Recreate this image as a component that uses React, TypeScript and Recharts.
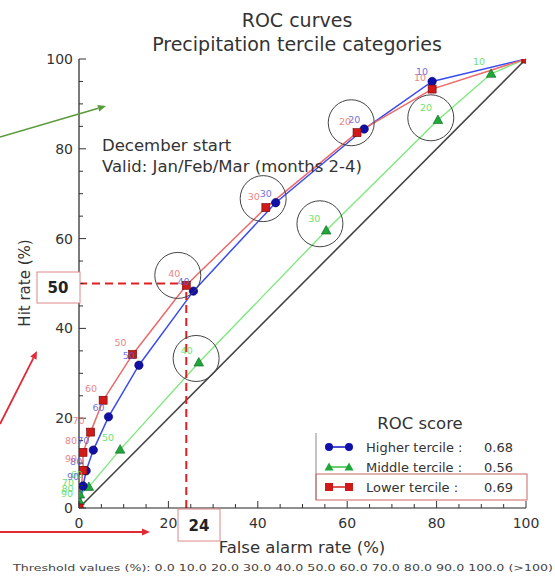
import React from 'react';
import { ComposedChart, Line, XAxis, YAxis, ReferenceLine, ReferenceDot, LabelList } from 'recharts';

// Threshold labels (probability thresholds) for each ROC point, from (0,0) to (100,100)
const thresholds = ['100', '90', '80', '70', '60', '50', '40', '30', '20', '10', '0'];

// Higher tercile (blue)
const higherFar = [0, 0.9, 1.6, 3.2, 6.6, 13.4, 25.6, 44, 63.8, 79, 100];
const higherHit = [0, 4.9, 8.3, 12.9, 20.3, 31.8, 48.3, 68, 84.4, 95, 100];
// Middle tercile (green)
const middleFar = [0, 0, 0.1, 0.2, 2.2, 9.2, 26.8, 55.3, 80.3, 92.2, 100];
const middleHit = [0, 0.5, 1.5, 3, 4.7, 13, 32.4, 61.8, 86.4, 96.7, 100];
// Lower tercile (red)
const lowerFar = [0, 0.9, 0.9, 2.6, 5.4, 12, 24, 41.8, 62.2, 79, 100];
const lowerHit = [0, 8.4, 12.4, 16.9, 24, 34.2, 49.6, 66.9, 83.6, 93.3, 100];

// Highlight circles (annotation centres)
const circleFar = [22.1, 41.2, 60.9, 26.2, 53.9, 78.7];
const circleHit = [51.8, 68.9, 85.8, 33.3, 63.3, 86.9];

// Highlighted reading
const markFar = 24;
const markHit = 50;

const allTicks = [0, 5, 10, 15, 20, 25, 30, 35, 40, 45, 50, 55, 60, 65, 70, 75, 80, 85, 90, 95, 100];

const legendNames = ['Higher tercile :', 'Middle tercile :', 'Lower tercile  :'];
const legendScores = ['0.68', '0.56', '0.69'];
const thresholdText = 'Threshold values (%): 0.0 10.0 20.0 30.0 40.0 50.0 60.0 70.0 80.0 90.0 100.0 (>100)';

const FONT = '"DejaVu Sans", sans-serif';

const makeSeries = (far: number[], hit: number[]) =>
  far.map((x, i) => ({ x, y: hit[i], label: thresholds[i] }));

const higherData = makeSeries(higherFar, higherHit);
const middleData = makeSeries(middleFar, middleHit);
const lowerData = makeSeries(lowerFar, lowerHit);
const circles = circleFar.map((x, i) => ({ x, y: circleHit[i] }));

const BLUE_LINE = '#3a4cf0';
const BLUE_DOT = '#1010a8';
const GREEN_LINE = '#7be87b';
const GREEN_DOT = '#1fa83a';
const RED_LINE = '#ec6a6a';
const RED_DOT = '#d01a1a';

const circleDot = (props: any) => {
  const { cx, cy, index } = props;
  if (cx == null || cy == null) return <g key={index} />;
  return <circle key={index} cx={cx} cy={cy} r={4.2} fill={BLUE_DOT} stroke="#000060" strokeWidth={0.6} />;
};
const triDot = (props: any) => {
  const { cx, cy, index } = props;
  if (cx == null || cy == null) return <g key={index} />;
  return (
    <polygon key={index} points={`${cx},${cy - 5} ${cx - 4.8},${cy + 3.5} ${cx + 4.8},${cy + 3.5}`} fill={GREEN_DOT} stroke="#0a6020" strokeWidth={0.6} />
  );
};
const sqDot = (props: any) => {
  const { cx, cy, index } = props;
  if (cx == null || cy == null) return <g key={index} />;
  return <rect key={index} x={cx - 4} y={cy - 4} width={8} height={8} fill={RED_DOT} stroke="#700000" strokeWidth={0.6} />;
};

const makeLabel = (color: string, dx: number, dy: number) => (props: any) => {
  const { x, y, value, index } = props;
  if (value === '100' || value === '0' || x == null) return null;
  return (
    <text key={index} x={x + dx} y={y + dy} fill={color} fontSize={9.5} fontFamily={FONT} textAnchor="middle" opacity={0.85}>
      {value}
    </text>
  );
};

const BottomTick = (props: any) => {
  const { x, y, payload } = props;
  const v = payload.value;
  const major = v % 20 === 0;
  return (
    <g>
      <line x1={x} y1={y} x2={x} y2={y - (major ? 7 : 4)} stroke="#333" strokeWidth={1} />
      {major && (
        <text x={x} y={y + 20} textAnchor="middle" fontSize={14} fontFamily={FONT} fill="#333">
          {v}
        </text>
      )}
    </g>
  );
};
const TopTick = (props: any) => {
  const { x, y, payload } = props;
  const major = payload.value % 20 === 0;
  return <line x1={x} y1={y} x2={x} y2={y + (major ? 7 : 4)} stroke="#333" strokeWidth={1} />;
};
const LeftTick = (props: any) => {
  const { x, y, payload } = props;
  const v = payload.value;
  const major = v % 20 === 0;
  return (
    <g>
      <line x1={x} y1={y} x2={x + (major ? 7 : 4)} y2={y} stroke="#333" strokeWidth={1} />
      {major && (
        <text x={x - 6} y={y + 5} textAnchor="end" fontSize={14} fontFamily={FONT} fill="#333">
          {v}
        </text>
      )}
    </g>
  );
};
const RightTick = (props: any) => {
  const { x, y, payload } = props;
  const major = payload.value % 20 === 0;
  return <line x1={x} y1={y} x2={x - (major ? 7 : 4)} y2={y} stroke="#333" strokeWidth={1} />;
};

const Arrow = ({ x1, y1, x2, y2, color, w }: any) => {
  const ang = Math.atan2(y2 - y1, x2 - x1);
  const L = 8;
  const W = 3.5;
  const bx = x2 - L * Math.cos(ang);
  const by = y2 - L * Math.sin(ang);
  const px = -Math.sin(ang) * W;
  const py = Math.cos(ang) * W;
  return (
    <g>
      <line x1={x1} y1={y1} x2={bx} y2={by} stroke={color} strokeWidth={w} />
      <polygon points={`${x2},${y2} ${bx + px},${by + py} ${bx - px},${by - py}`} fill={color} />
    </g>
  );
};

export default function App() {
  return (
    <div style={{ position: 'absolute', left: 0, top: 0, width: 555, height: 579, background: '#fff', fontFamily: FONT }}>
      <ComposedChart width={555} height={579} margin={{ top: 59, right: 29, bottom: 41, left: 39 }}>
        <XAxis
          xAxisId={0}
          type="number"
          dataKey="x"
          domain={[0, 100]}
          ticks={allTicks}
          interval={0}
          tick={<BottomTick />}
          tickLine={false}
          tickSize={0}
          tickMargin={0}
          height={30}
          axisLine={{ stroke: '#222', strokeWidth: 1.2 }}
          allowDataOverflow
        />
        <XAxis
          xAxisId="top"
          orientation="top"
          type="number"
          domain={[0, 100]}
          ticks={allTicks}
          interval={0}
          tick={<TopTick />}
          tickLine={false}
          tickSize={0}
          tickMargin={0}
          height={0}
          axisLine={{ stroke: '#222', strokeWidth: 1.2 }}
          allowDataOverflow
        />
        <YAxis
          yAxisId={0}
          type="number"
          domain={[0, 100]}
          ticks={allTicks}
          interval={0}
          tick={<LeftTick />}
          tickLine={false}
          tickSize={0}
          tickMargin={0}
          width={40}
          axisLine={{ stroke: '#222', strokeWidth: 1.2 }}
          allowDataOverflow
        />
        <YAxis
          yAxisId="right"
          orientation="right"
          type="number"
          domain={[0, 100]}
          ticks={allTicks}
          interval={0}
          tick={<RightTick />}
          tickLine={false}
          tickSize={0}
          tickMargin={0}
          width={0}
          axisLine={{ stroke: '#222', strokeWidth: 1.2 }}
          allowDataOverflow
        />

        <ReferenceLine segment={[{ x: 0, y: 0 }, { x: 100, y: 100 }]} stroke="#444" strokeWidth={1.6} />

        <Line data={middleData} dataKey="y" stroke={GREEN_LINE} strokeWidth={1.3} dot={triDot} isAnimationActive={false} legendType="none">
          <LabelList dataKey="label" content={makeLabel('#55dd55', -12, -9)} />
        </Line>
        <Line data={higherData} dataKey="y" stroke={BLUE_LINE} strokeWidth={1.5} dot={circleDot} isAnimationActive={false}>
          <LabelList dataKey="label" content={makeLabel('#5a5ad8', -10, -6)} />
        </Line>
        <Line data={lowerData} dataKey="y" stroke={RED_LINE} strokeWidth={1.5} dot={sqDot} isAnimationActive={false}>
          <LabelList dataKey="label" content={makeLabel('#e87070', -12, -8)} />
        </Line>

        {circles.map((c, i) => (
          <ReferenceDot key={i} x={c.x} y={c.y} r={23} fill="none" stroke="#444" strokeWidth={1} />
        ))}

        <ReferenceLine segment={[{ x: 0, y: markHit }, { x: markFar, y: markHit }]} stroke="#e02020" strokeWidth={2} strokeDasharray="8 5" />
        <ReferenceLine segment={[{ x: markFar, y: 0 }, { x: markFar, y: markHit }]} stroke="#e02020" strokeWidth={2} strokeDasharray="8 5" />
      </ComposedChart>

      <svg width={555} height={579} style={{ position: 'absolute', left: 0, top: 0, pointerEvents: 'none' }}>
        <text x={297} y={27} textAnchor="middle" fontSize={19} fontFamily={FONT} fill="#333">ROC curves</text>
        <text x={297} y={51} textAnchor="middle" fontSize={19} fontFamily={FONT} fill="#333">Precipitation tercile categories</text>

        <text x={102} y={151} fontSize={16.5} fontFamily={FONT} fill="#333">December start</text>
        <text x={102} y={172} fontSize={16.5} fontFamily={FONT} fill="#333">Valid: Jan/Feb/Mar (months 2-4)</text>

        <text x={302} y={553} textAnchor="middle" fontSize={16.5} fontFamily={FONT} fill="#333">False alarm rate (%)</text>
        <text x={0} y={0} transform="translate(30,283) rotate(-90)" textAnchor="middle" fontSize={15} fontFamily={FONT} fill="#333">Hit rate (%)</text>

        <text x={13} y={571} fontSize={8.5} fontFamily={FONT} fill="#444" textLength={540} lengthAdjust="spacingAndGlyphs">{thresholdText}</text>

        {/* Highlight boxes */}
        <rect x={37} y={272} width={43} height={31} fill="#fff" stroke="#d88" strokeWidth={1} />
        <text x={58} y={293} textAnchor="middle" fontSize={15} fontWeight="bold" fontFamily={FONT} fill="#222">{markHit}</text>
        <rect x={178} y={509} width={42} height={32} fill="none" stroke="#d88" strokeWidth={1} />
        <text x={199} y={531} textAnchor="middle" fontSize={15} fontWeight="bold" fontFamily={FONT} fill="#222">{markFar}</text>

        {/* Arrows */}
        <Arrow x1={0} y1={137} x2={106} y2={106} color="#5a9a3a" w={1.5} />
        <Arrow x1={0} y1={424} x2={37} y2={351} color="#e02a36" w={1.8} />
        <Arrow x1={0} y1={532} x2={150} y2={532} color="#e02a36" w={1.8} />

        {/* Legend */}
        <text x={420} y={429} textAnchor="middle" fontSize={16.5} fontFamily={FONT} fill="#333">ROC score</text>
        <line x1={316} y1={433} x2={316} y2={500} stroke="#888" strokeWidth={1} />
        {legendNames.map((n, i) => {
          const y = 447 + i * 20;
          const col = [BLUE_DOT, GREEN_DOT, RED_DOT][i];
          const lc = ['#1010c0', '#30c040', '#d02020'][i];
          return (
            <g key={i}>
              <line x1={329} y1={y} x2={349} y2={y} stroke={lc} strokeWidth={1.5} />
              {i === 0 && (
                <>
                  <circle cx={329} cy={y} r={4} fill={col} />
                  <circle cx={349} cy={y} r={4} fill={col} />
                </>
              )}
              {i === 1 && (
                <>
                  <polygon points={`329,${y - 4.5} 324.5,${y + 3.5} 333.5,${y + 3.5}`} fill={col} />
                  <polygon points={`349,${y - 4.5} 344.5,${y + 3.5} 353.5,${y + 3.5}`} fill={col} />
                </>
              )}
              {i === 2 && (
                <>
                  <rect x={325} y={y - 4} width={8} height={8} fill={col} />
                  <rect x={345} y={y - 4} width={8} height={8} fill={col} />
                </>
              )}
              <text x={366} y={y + 5} fontSize={13} fontFamily={FONT} fill="#333">{n}</text>
              <text x={484} y={y + 5} fontSize={13} fontFamily={FONT} fill="#333">{legendScores[i]}</text>
            </g>
          );
        })}
        <rect x={316} y={474} width={211} height={26} fill="none" stroke="#c66" strokeWidth={1} />
      </svg>
    </div>
  );
}
